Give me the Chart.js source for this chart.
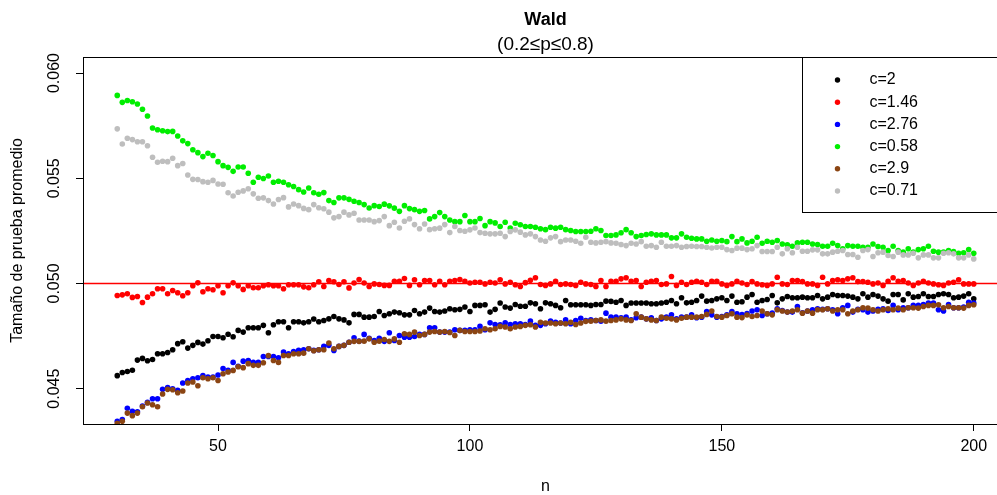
<!DOCTYPE html>
<html>
<head>
<meta charset="utf-8">
<title>Wald</title>
<script src="https://cdn.jsdelivr.net/npm/chart.js@4.4.1/dist/chart.umd.min.js"></script>
<style>
  html, body { margin: 0; padding: 0; background: #fff; overflow: hidden; }
  #wrap { width: 1012px; height: 495px; }
</style>
</head>
<body>
<div id="wrap"><canvas id="wald-plot" width="1012" height="495"></canvas></div>
<script>
// sample sizes
const n = [
  30, 31, 32, 33, 34, 35, 36, 37, 38, 39, 40, 41, 42, 43, 44, 45, 46, 47, 48, 49,
  50, 51, 52, 53, 54, 55, 56, 57, 58, 59, 60, 61, 62, 63, 64, 65, 66, 67, 68, 69,
  70, 71, 72, 73, 74, 75, 76, 77, 78, 79, 80, 81, 82, 83, 84, 85, 86, 87, 88, 89,
  90, 91, 92, 93, 94, 95, 96, 97, 98, 99, 100, 101, 102, 103, 104, 105, 106, 107, 108, 109,
  110, 111, 112, 113, 114, 115, 116, 117, 118, 119, 120, 121, 122, 123, 124, 125, 126, 127, 128, 129,
  130, 131, 132, 133, 134, 135, 136, 137, 138, 139, 140, 141, 142, 143, 144, 145, 146, 147, 148, 149,
  150, 151, 152, 153, 154, 155, 156, 157, 158, 159, 160, 161, 162, 163, 164, 165, 166, 167, 168, 169,
  170, 171, 172, 173, 174, 175, 176, 177, 178, 179, 180, 181, 182, 183, 184, 185, 186, 187, 188, 189,
  190, 191, 192, 193, 194, 195, 196, 197, 198, 199, 200
];

// average test size for each c
const c2 = [
  0.04562, 0.04577, 0.04582, 0.04588, 0.04636, 0.04644, 0.04633, 0.04639, 0.04666, 0.04666,
  0.04672, 0.04685, 0.04714, 0.04723, 0.04693, 0.04706, 0.04720, 0.04712, 0.04728, 0.04748,
  0.04748, 0.04742, 0.04759, 0.04747, 0.04777, 0.04769, 0.04790, 0.04790, 0.04790, 0.04801,
  0.04766, 0.04804, 0.04818, 0.04818, 0.04790, 0.04818, 0.04818, 0.04813, 0.04818, 0.04831,
  0.04818, 0.04824, 0.04832, 0.04843, 0.04832, 0.04827, 0.04813, 0.04853, 0.04853, 0.04840,
  0.04840, 0.04843, 0.04867, 0.04848, 0.04856, 0.04864, 0.04861, 0.04851, 0.04851, 0.04872,
  0.04856, 0.04864, 0.04883, 0.04867, 0.04864, 0.04869, 0.04880, 0.04875, 0.04877, 0.04888,
  0.04867, 0.04896, 0.04896, 0.04899, 0.04864, 0.04877, 0.04907, 0.04888, 0.04883, 0.04900,
  0.04892, 0.04892, 0.04908, 0.04904, 0.04880, 0.04908, 0.04904, 0.04896, 0.04885, 0.04919,
  0.04899, 0.04899, 0.04899, 0.04899, 0.04896, 0.04900, 0.04900, 0.04916, 0.04915, 0.04911,
  0.04919, 0.04896, 0.04907, 0.04907, 0.04907, 0.04907, 0.04904, 0.04904, 0.04907, 0.04911,
  0.04919, 0.04904, 0.04932, 0.04908, 0.04911, 0.04919, 0.04940, 0.04916, 0.04919, 0.04927,
  0.04932, 0.04919, 0.04940, 0.04911, 0.04913, 0.04935, 0.04948, 0.04911, 0.04919, 0.04924,
  0.04943, 0.04908, 0.04927, 0.04938, 0.04932, 0.04932, 0.04935, 0.04932, 0.04932, 0.04943,
  0.04927, 0.04935, 0.04948, 0.04943, 0.04943, 0.04940, 0.04935, 0.04927, 0.04951, 0.04935,
  0.04948, 0.04940, 0.04927, 0.04916, 0.04948, 0.04948, 0.04922, 0.04951, 0.04935, 0.04938,
  0.04951, 0.04938, 0.04938, 0.04948, 0.04951, 0.04948, 0.04932, 0.04935, 0.04940, 0.04951,
  0.04927
];
const c146 = [
  0.04943, 0.04946, 0.04951, 0.04934, 0.04938, 0.04910, 0.04935, 0.04951, 0.04975, 0.04975,
  0.04951, 0.04967, 0.04956, 0.04942, 0.04956, 0.04989, 0.05003, 0.04961, 0.04975, 0.04970,
  0.04989, 0.04956, 0.04989, 0.05003, 0.04989, 0.04972, 0.04989, 0.04980, 0.04980, 0.04989,
  0.04994, 0.04989, 0.04989, 0.04975, 0.04994, 0.04994, 0.04994, 0.04984, 0.04980, 0.04994,
  0.05008, 0.04986, 0.05014, 0.05008, 0.04995, 0.05008, 0.04979, 0.05002, 0.05019, 0.05002,
  0.04986, 0.04998, 0.04995, 0.04991, 0.04991, 0.05011, 0.05011, 0.05024, 0.04991, 0.05018,
  0.04994, 0.05014, 0.05014, 0.04994, 0.05011, 0.04994, 0.05011, 0.05014, 0.05019, 0.05011,
  0.05002, 0.05006, 0.05006, 0.04998, 0.05006, 0.05002, 0.05018, 0.04998, 0.05006, 0.04994,
  0.04986, 0.05004, 0.05015, 0.05027, 0.04995, 0.04991, 0.04998, 0.05011, 0.04995, 0.04998,
  0.04995, 0.04991, 0.05006, 0.04998, 0.04995, 0.04986, 0.05014, 0.04986, 0.05011, 0.05011,
  0.05022, 0.05027, 0.05011, 0.05014, 0.04986, 0.05006, 0.05011, 0.05014, 0.04995, 0.04998,
  0.05033, 0.04991, 0.05006, 0.04995, 0.05006, 0.05011, 0.05006, 0.04995, 0.05011, 0.05011,
  0.04998, 0.04991, 0.04998, 0.05011, 0.05002, 0.04995, 0.05009, 0.04998, 0.04994, 0.04991,
  0.04998, 0.05030, 0.04998, 0.04995, 0.05014, 0.05014, 0.05009, 0.04998, 0.04998, 0.04991,
  0.05030, 0.04998, 0.05014, 0.05018, 0.05014, 0.05022, 0.05027, 0.05009, 0.05009, 0.05006,
  0.04998, 0.05002, 0.04991, 0.05011, 0.05027, 0.05011, 0.05014, 0.05002, 0.04991, 0.05002,
  0.05011, 0.05002, 0.04998, 0.04994, 0.04991, 0.05002, 0.05006, 0.05018, 0.04998, 0.04998,
  0.04998
];
const c276 = [
  0.04345, 0.04353, 0.04407, 0.04392, 0.04390, 0.04418, 0.04435, 0.04452, 0.04452, 0.04497,
  0.04505, 0.04500, 0.04492, 0.04527, 0.04539, 0.04547, 0.04552, 0.04563, 0.04555, 0.04555,
  0.04565, 0.04596, 0.04587, 0.04625, 0.04607, 0.04631, 0.04634, 0.04625, 0.04625, 0.04653,
  0.04653, 0.04653, 0.04647, 0.04674, 0.04666, 0.04677, 0.04682, 0.04685, 0.04690, 0.04682,
  0.04685, 0.04701, 0.04706, 0.04682, 0.04701, 0.04706, 0.04721, 0.04742, 0.04726, 0.04758,
  0.04740, 0.04729, 0.04740, 0.04725, 0.04766, 0.04729, 0.04753, 0.04745, 0.04745, 0.04748,
  0.04758, 0.04758, 0.04790, 0.04790, 0.04769, 0.04769, 0.04769, 0.04780, 0.04777, 0.04777,
  0.04780, 0.04780, 0.04796, 0.04780, 0.04813, 0.04805, 0.04804, 0.04813, 0.04805, 0.04809,
  0.04809, 0.04805, 0.04821, 0.04801, 0.04801, 0.04809, 0.04821, 0.04816, 0.04812, 0.04827,
  0.04809, 0.04824, 0.04835, 0.04824, 0.04827, 0.04824, 0.04821, 0.04859, 0.04840, 0.04840,
  0.04837, 0.04840, 0.04827, 0.04837, 0.04840, 0.04832, 0.04837, 0.04824, 0.04832, 0.04840,
  0.04851, 0.04832, 0.04840, 0.04840, 0.04851, 0.04837, 0.04840, 0.04867, 0.04851, 0.04840,
  0.04843, 0.04851, 0.04867, 0.04856, 0.04852, 0.04857, 0.04869, 0.04875, 0.04848, 0.04856,
  0.04859, 0.04880, 0.04872, 0.04864, 0.04864, 0.04891, 0.04861, 0.04869, 0.04875, 0.04880,
  0.04877, 0.04880, 0.04875, 0.04856, 0.04885, 0.04896, 0.04864, 0.04877, 0.04875, 0.04864,
  0.04869, 0.04877, 0.04880, 0.04872, 0.04896, 0.04875, 0.04885, 0.04885, 0.04896, 0.04896,
  0.04900, 0.04907, 0.04907, 0.04875, 0.04869, 0.04900, 0.04885, 0.04885, 0.04888, 0.04911,
  0.04907
];
const c058 = [
  0.05894, 0.05861, 0.05870, 0.05864, 0.05853, 0.05828, 0.05796, 0.05739, 0.05731, 0.05726,
  0.05722, 0.05723, 0.05701, 0.05678, 0.05665, 0.05636, 0.05622, 0.05603, 0.05619, 0.05608,
  0.05579, 0.05560, 0.05552, 0.05533, 0.05554, 0.05554, 0.05524, 0.05481, 0.05505, 0.05499,
  0.05511, 0.05481, 0.05486, 0.05481, 0.05469, 0.05461, 0.05446, 0.05435, 0.05454, 0.05431,
  0.05424, 0.05432, 0.05394, 0.05385, 0.05407, 0.05407, 0.05400, 0.05391, 0.05385, 0.05375,
  0.05359, 0.05370, 0.05366, 0.05377, 0.05369, 0.05358, 0.05343, 0.05370, 0.05356, 0.05351,
  0.05343, 0.05347, 0.05307, 0.05318, 0.05337, 0.05318, 0.05302, 0.05294, 0.05294, 0.05323,
  0.05294, 0.05294, 0.05309, 0.05275, 0.05294, 0.05288, 0.05271, 0.05291, 0.05264, 0.05286,
  0.05279, 0.05271, 0.05271, 0.05267, 0.05260, 0.05256, 0.05267, 0.05263, 0.05267, 0.05256,
  0.05252, 0.05247, 0.05247, 0.05247, 0.05248, 0.05260, 0.05252, 0.05228, 0.05228, 0.05231,
  0.05241, 0.05256, 0.05241, 0.05223, 0.05228, 0.05233, 0.05236, 0.05231, 0.05231, 0.05231,
  0.05217, 0.05217, 0.05236, 0.05220, 0.05215, 0.05212, 0.05212, 0.05201, 0.05207, 0.05201,
  0.05204, 0.05199, 0.05223, 0.05199, 0.05212, 0.05193, 0.05201, 0.05220, 0.05191, 0.05201,
  0.05196, 0.05204, 0.05188, 0.05184, 0.05177, 0.05193, 0.05196, 0.05196, 0.05188, 0.05185,
  0.05177, 0.05177, 0.05191, 0.05180, 0.05165, 0.05180, 0.05177, 0.05177, 0.05172, 0.05172,
  0.05188, 0.05176, 0.05172, 0.05157, 0.05177, 0.05157, 0.05149, 0.05165, 0.05149, 0.05161,
  0.05165, 0.05177, 0.05153, 0.05149, 0.05149, 0.05157, 0.05152, 0.05144, 0.05146, 0.05161,
  0.05144
];
const c29 = [
  0.04335, 0.04345, 0.04384, 0.04372, 0.04384, 0.04414, 0.04432, 0.04424, 0.04414, 0.04475,
  0.04497, 0.04495, 0.04481, 0.04489, 0.04527, 0.04532, 0.04514, 0.04552, 0.04547, 0.04552,
  0.04539, 0.04571, 0.04579, 0.04587, 0.04604, 0.04600, 0.04619, 0.04611, 0.04611, 0.04623,
  0.04657, 0.04634, 0.04625, 0.04658, 0.04658, 0.04666, 0.04666, 0.04669, 0.04690, 0.04680,
  0.04685, 0.04685, 0.04717, 0.04690, 0.04701, 0.04706, 0.04721, 0.04725, 0.04725, 0.04726,
  0.04737, 0.04721, 0.04726, 0.04734, 0.04725, 0.04737, 0.04721, 0.04761, 0.04758, 0.04769,
  0.04753, 0.04758, 0.04769, 0.04772, 0.04769, 0.04772, 0.04767, 0.04753, 0.04777, 0.04772,
  0.04772, 0.04772, 0.04774, 0.04785, 0.04780, 0.04785, 0.04796, 0.04793, 0.04785, 0.04793,
  0.04796, 0.04801, 0.04804, 0.04793, 0.04816, 0.04812, 0.04812, 0.04809, 0.04812, 0.04809,
  0.04816, 0.04805, 0.04812, 0.04820, 0.04821, 0.04824, 0.04827, 0.04821, 0.04824, 0.04827,
  0.04832, 0.04827, 0.04824, 0.04856, 0.04840, 0.04832, 0.04827, 0.04824, 0.04840, 0.04835,
  0.04832, 0.04827, 0.04835, 0.04840, 0.04840, 0.04840, 0.04843, 0.04853, 0.04869, 0.04843,
  0.04840, 0.04848, 0.04856, 0.04840, 0.04838, 0.04850, 0.04843, 0.04848, 0.04869, 0.04856,
  0.04851, 0.04875, 0.04869, 0.04864, 0.04869, 0.04875, 0.04859, 0.04869, 0.04859, 0.04875,
  0.04875, 0.04880, 0.04869, 0.04875, 0.04875, 0.04856, 0.04869, 0.04875, 0.04885, 0.04883,
  0.04875, 0.04869, 0.04875, 0.04880, 0.04875, 0.04883, 0.04875, 0.04885, 0.04885, 0.04883,
  0.04891, 0.04896, 0.04896, 0.04899, 0.04885, 0.04891, 0.04885, 0.04885, 0.04883, 0.04896,
  0.04899
];
const c071 = [
  0.05735, 0.05663, 0.05690, 0.05684, 0.05674, 0.05674, 0.05655, 0.05600, 0.05576, 0.05581,
  0.05579, 0.05595, 0.05560, 0.05570, 0.05516, 0.05495, 0.05494, 0.05484, 0.05481, 0.05490,
  0.05473, 0.05472, 0.05431, 0.05416, 0.05434, 0.05440, 0.05450, 0.05426, 0.05405, 0.05407,
  0.05394, 0.05378, 0.05399, 0.05408, 0.05364, 0.05378, 0.05370, 0.05357, 0.05351, 0.05375,
  0.05360, 0.05355, 0.05339, 0.05312, 0.05318, 0.05339, 0.05326, 0.05334, 0.05302, 0.05302,
  0.05302, 0.05294, 0.05299, 0.05318, 0.05275, 0.05291, 0.05264, 0.05296, 0.05307, 0.05280,
  0.05260, 0.05283, 0.05256, 0.05260, 0.05263, 0.05280, 0.05242, 0.05271, 0.05252, 0.05248,
  0.05255, 0.05264, 0.05242, 0.05239, 0.05236, 0.05236, 0.05239, 0.05223, 0.05247, 0.05255,
  0.05244, 0.05231, 0.05236, 0.05223, 0.05207, 0.05201, 0.05217, 0.05223, 0.05199, 0.05207,
  0.05207, 0.05201, 0.05191, 0.05220, 0.05196, 0.05193, 0.05196, 0.05199, 0.05193, 0.05191,
  0.05185, 0.05180, 0.05191, 0.05188, 0.05199, 0.05177, 0.05180, 0.05172, 0.05196, 0.05177,
  0.05177, 0.05180, 0.05172, 0.05176, 0.05177, 0.05176, 0.05176, 0.05172, 0.05169, 0.05172,
  0.05172, 0.05161, 0.05157, 0.05168, 0.05168, 0.05161, 0.05165, 0.05180, 0.05152, 0.05152,
  0.05152, 0.05172, 0.05141, 0.05165, 0.05146, 0.05172, 0.05153, 0.05153, 0.05160, 0.05160,
  0.05141, 0.05141, 0.05149, 0.05153, 0.05157, 0.05138, 0.05138, 0.05125, 0.05157, 0.05161,
  0.05128, 0.05146, 0.05149, 0.05133, 0.05128, 0.05149, 0.05136, 0.05136, 0.05144, 0.05122,
  0.05136, 0.05136, 0.05122, 0.05122, 0.05144, 0.05146, 0.05141, 0.05122, 0.05122, 0.05136,
  0.05117
];

const seriesLabels = ['c=2', 'c=1.46', 'c=2.76', 'c=0.58', 'c=2.9', 'c=0.71'];
const seriesData = [c2, c146, c276, c058, c29, c071];
const seriesColors = ['#000000', '#ff0000', '#0000ff', '#00ee00', '#8b4513', '#bebebe'];

const xTicks = [50, 100, 150, 200];
const yTicks = [0.045, 0.050, 0.055, 0.060];
const xRange = [23.2, 206.8];
const yRange = [0.043322, 0.060765];
const nominalSize = 0.05;

const FONT = "'Liberation Sans', Arial, sans-serif";
Chart.defaults.font.family = FONT;
Chart.defaults.color = '#000';

// plot frame and the boxed legend
const plotDecor = {
  id: 'plotDecor',
  afterDraw(chart, args, opts) {
    const { ctx, chartArea: a } = chart;
    ctx.save();
    ctx.strokeStyle = '#000';
    ctx.lineWidth = 1;
    ctx.strokeRect(Math.round(a.left) + 0.5, Math.round(a.top) + 0.5,
      Math.round(a.right - a.left), Math.round(a.bottom - a.top));

    // legend box in the top right corner
    const sets = chart.data.datasets.filter(ds => !ds.isReference);
    const h = opts.padTop * 2 + opts.rowHeight * (sets.length - 1) - 2;
    const x0 = Math.round(a.right - opts.width) + 0.5;
    const y0 = Math.round(a.top) + 0.5;
    ctx.fillStyle = '#fff';
    ctx.fillRect(x0, y0, opts.width, h);
    ctx.strokeRect(x0, y0, opts.width, h);
    ctx.font = '16px ' + FONT;
    ctx.textBaseline = 'middle';
    ctx.textAlign = 'left';
    sets.forEach((ds, i) => {
      const cy = a.top + opts.padTop + i * opts.rowHeight;
      ctx.fillStyle = ds.pointBackgroundColor;
      ctx.beginPath();
      ctx.arc(x0 + opts.symbolX, cy, 2.7, 0, Math.PI * 2);
      ctx.fill();
      ctx.fillStyle = '#000';
      ctx.fillText(ds.label, x0 + opts.textX, cy);
    });
    ctx.restore();
  }
};

const datasets = seriesLabels.map((label, i) => ({
  label: label,
  data: n.map((v, j) => ({ x: v, y: seriesData[i][j] })),
  pointBackgroundColor: seriesColors[i],
  backgroundColor: seriesColors[i],
  pointBorderWidth: 0,
  pointRadius: 2.8,
  // later series are drawn on top
  order: seriesLabels.length - i
}));

// horizontal reference at the nominal size 0.05
datasets.push({
  type: 'line',
  label: 'nominal',
  isReference: true,
  data: xRange.map(x => ({ x: x, y: nominalSize })),
  borderColor: '#ff0000',
  borderWidth: 1.5,
  pointRadius: 0,
  fill: false,
  order: seriesLabels.length + 1
});

const ctx = document.getElementById('wald-plot').getContext('2d');
const chart = new Chart(ctx, {
  type: 'scatter',
  data: { datasets: datasets },
  options: {
    responsive: false,
    animation: false,
    layout: { padding: 0 },
    scales: {
      x: {
        type: 'linear',
        min: xRange[0],
        max: xRange[1],
        afterBuildTicks: s => { s.ticks = xTicks.map(v => ({ value: v })); },
        afterFit: s => { s.height = 71; s.paddingLeft = 0; s.paddingRight = 0; },
        grid: { drawOnChartArea: false, tickLength: 7, color: '#000' },
        border: { display: false },
        ticks: { padding: 6, maxRotation: 0, autoSkip: false, font: { size: 16 }, color: '#000' },
        title: { display: true, text: 'n', font: { size: 16, lineHeight: 1 }, padding: 0, color: '#000' }
      },
      y: {
        type: 'linear',
        min: yRange[0],
        max: yRange[1],
        afterBuildTicks: s => { s.ticks = yTicks.map(v => ({ value: v })); },
        afterFit: s => { s.width = 83; s.paddingTop = 0; s.paddingBottom = 0; },
        grid: { drawOnChartArea: false, tickLength: 7, color: '#000' },
        border: { display: false },
        ticks: {
          minRotation: 90, maxRotation: 90, crossAlign: 'center', padding: 1,
          font: { size: 16 }, color: '#000',
          callback: v => v.toFixed(3)
        },
        title: {
          display: true, text: 'Tamaño de prueba promedio',
          font: { size: 16, lineHeight: 1 }, padding: { top: 10, bottom: 0 }, color: '#000'
        }
      }
    },
    plugins: {
      legend: { display: false },
      tooltip: { enabled: false },
      title: {
        display: true, text: 'Wald', fullSize: false,
        font: { size: 18, weight: 'bold', lineHeight: 1.2 },
        padding: { top: 9, bottom: 0 }, color: '#000'
      },
      subtitle: {
        display: true, text: '(0.2\u2264p\u22640.8)', fullSize: false,
        font: { size: 19, lineHeight: 1.2 },
        padding: { top: 3, bottom: 0.6 }, color: '#000'
      },
      plotDecor: { width: 206, padTop: 23, rowHeight: 22.2, symbolX: 35, textX: 67 }
    }
  },
  plugins: [plotDecor]
});
</script>
</body>
</html>
